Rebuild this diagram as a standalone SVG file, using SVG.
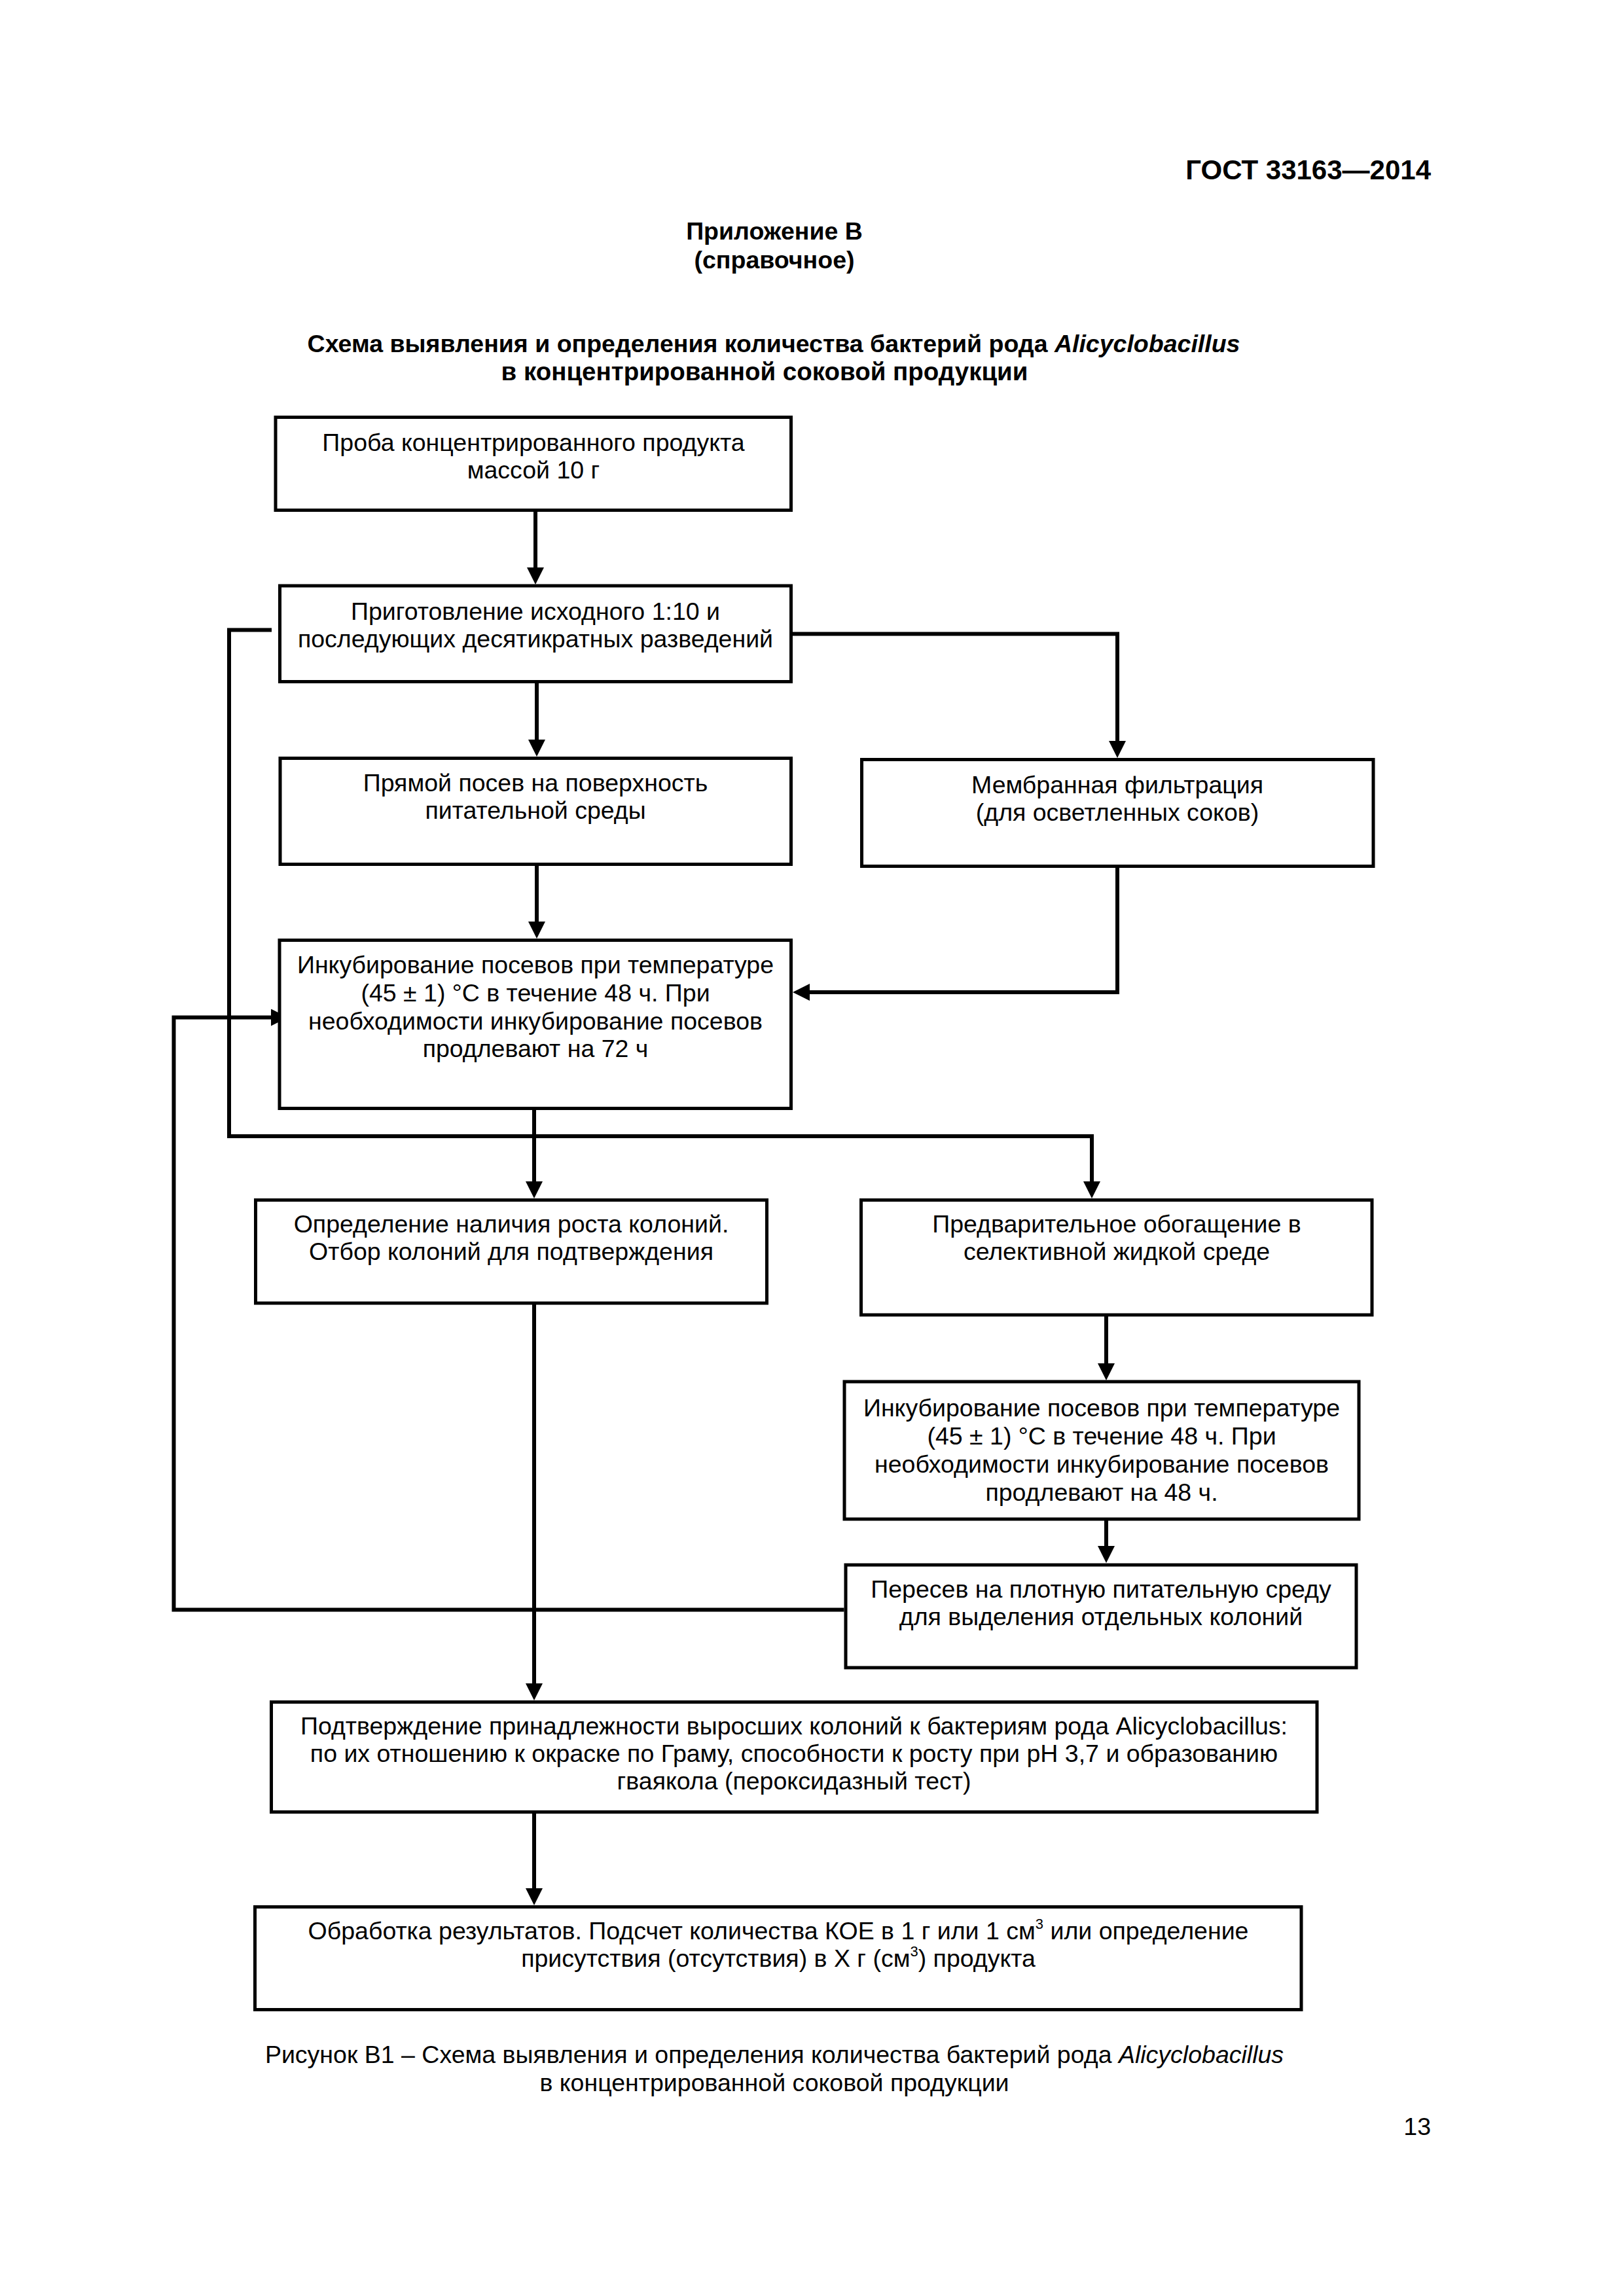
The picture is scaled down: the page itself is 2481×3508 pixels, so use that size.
<svg xmlns="http://www.w3.org/2000/svg" width="2481" height="3508" viewBox="0 0 2481 3508">
<style>
.bg{fill:#fff}
.box{fill:#fff;stroke:#000;stroke-width:5}
.conn{fill:none;stroke:#000;stroke-width:6}
.t{font-family:"Liberation Sans",Arial,sans-serif;font-size:37.5px;text-anchor:middle;fill:#000}
.h{font-family:"Liberation Sans",Arial,sans-serif;font-weight:bold;fill:#000}
.c{font-family:"Liberation Sans",Arial,sans-serif;font-size:37.5px;fill:#000}
</style>
<defs>
<marker id="ah" markerUnits="userSpaceOnUse" markerWidth="26" markerHeight="26" refX="16" refY="13" orient="auto" viewBox="0 0 26 26">
<path d="M0,0 L26,13 L0,26 Z" fill="#000"/>
</marker>
</defs>
<rect class="bg" x="0" y="0" width="2481" height="3508"/>

<text class="h" x="2186" y="274" font-size="42" text-anchor="end">ГОСТ 33163—2014</text>
<text class="h" x="1183" y="366" font-size="37.5" text-anchor="middle">Приложение В</text>
<text class="h" x="1183" y="410" font-size="37.5" text-anchor="middle">(справочное)</text>
<text class="h" x="1182" y="538" font-size="37.5" text-anchor="middle">Схема выявления и определения количества бактерий рода <tspan font-style="italic">Alicyclobacillus</tspan></text>
<text class="h" x="1168" y="581" font-size="38.5" text-anchor="middle">в концентрированной соковой продукции</text>

<g id="connectors">
<path class="conn" d="M818,779.5 V883" marker-end="url(#ah)"/>
<path class="conn" d="M820,1041.5 V1146" marker-end="url(#ah)"/>
<path class="conn" d="M1211,968.5 H1707 V1148" marker-end="url(#ah)"/>
<path class="conn" d="M820,1320.5 V1424" marker-end="url(#ah)"/>
<path class="conn" d="M1707,1323.5 V1516 H1221" marker-end="url(#ah)"/>
<path class="conn" d="M415,962.5 H350 V1736 H1668 V1821" marker-end="url(#ah)"/>
<path class="conn" d="M816,1693.5 V1821" marker-end="url(#ah)"/>
<path class="conn" d="M816,1991 V2588" marker-end="url(#ah)"/>
<path class="conn" d="M1690,2009 V2099" marker-end="url(#ah)"/>
<path class="conn" d="M1690,2321 V2378" marker-end="url(#ah)"/>
<path class="conn" d="M1289.5,2459.5 H265.5 V1554.5 H430" marker-end="url(#ah)"/>
<path class="conn" d="M816,2768.5 V2901" marker-end="url(#ah)"/>
</g>

<g id="n1">
<rect class="box" x="421" y="637.5" width="787.5" height="142"/>
<text class="t" x="815" y="689">Проба концентрированного продукта</text>
<text class="t" x="815" y="731">массой 10 г</text>
</g>
<g id="n2">
<rect class="box" x="427.5" y="895" width="781" height="146.5"/>
<text class="t" x="818" y="947">Приготовление исходного 1:10 и</text>
<text class="t" x="818" y="989">последующих десятикратных разведений</text>
</g>
<g id="n3">
<rect class="box" x="428" y="1158.5" width="780.5" height="162"/>
<text class="t" x="818" y="1209">Прямой посев на поверхность</text>
<text class="t" x="818" y="1251">питательной среды</text>
</g>
<g id="n4">
<rect class="box" x="1316.5" y="1160.5" width="781.5" height="163"/>
<text class="t" x="1707" y="1212">Мембранная фильтрация</text>
<text class="t" x="1707" y="1254">(для осветленных соков)</text>
</g>
<g id="n5">
<rect class="box" x="427" y="1436.5" width="781.5" height="257"/>
<text class="t" x="818" y="1487">Инкубирование посевов при температуре</text>
<text class="t" x="818" y="1530">(45 ± 1) °С в течение 48 ч. При</text>
<text class="t" x="818" y="1573">необходимости инкубирование посевов</text>
<text class="t" x="818" y="1615">продлевают на 72 ч</text>
</g>
<g id="n6">
<rect class="box" x="390.5" y="1833.5" width="781" height="157.5"/>
<text class="t" x="781" y="1883">Определение наличия роста колоний.</text>
<text class="t" x="781" y="1925">Отбор колоний для подтверждения</text>
</g>
<g id="n7">
<rect class="box" x="1315.5" y="1833.5" width="780.5" height="175.5"/>
<text class="t" x="1706" y="1883">Предварительное обогащение в</text>
<text class="t" x="1706" y="1925">селективной жидкой среде</text>
</g>
<g id="n8">
<rect class="box" x="1290" y="2111" width="786" height="210"/>
<text class="t" x="1683" y="2164">Инкубирование посевов при температуре</text>
<text class="t" x="1683" y="2207">(45 ± 1) °С в течение 48 ч. При</text>
<text class="t" x="1683" y="2250">необходимости инкубирование посевов</text>
<text class="t" x="1683" y="2293">продлевают на 48 ч.</text>
</g>
<g id="n9">
<rect class="box" x="1292" y="2391" width="780" height="157"/>
<text class="t" x="1682" y="2441">Пересев на плотную питательную среду</text>
<text class="t" x="1682" y="2483">для выделения отдельных колоний</text>
</g>
<g id="n10">
<rect class="box" x="414.5" y="2600.5" width="1597.5" height="168"/>
<text class="t" x="1213" y="2650">Подтверждение принадлежности выросших колоний к бактериям рода Alicyclobacillus:</text>
<text class="t" x="1213" y="2692">по их отношению к окраске по Граму, способности к росту при pH 3,7 и образованию</text>
<text class="t" x="1213" y="2734">гваякола (пероксидазный тест)</text>
</g>
<g id="n11">
<rect class="box" x="389.5" y="2913.5" width="1598.5" height="157"/>
<text class="t" x="1189" y="2963">Обработка результатов. Подсчет количества КОЕ в 1 г или 1 см<tspan dy="-16" font-size="22">3</tspan><tspan dy="16"> или определение</tspan></text>
<text class="t" x="1189" y="3005">присутствия (отсутствия) в Х г (см<tspan dy="-16" font-size="22">3</tspan><tspan dy="16">) продукта</tspan></text>
</g>

<text class="c" x="1183" y="3152" text-anchor="middle">Рисунок В1 – Схема выявления и определения количества бактерий рода <tspan font-style="italic">Alicyclobacillus</tspan></text>
<text class="c" x="1183" y="3195" text-anchor="middle">в концентрированной соковой продукции</text>
<text class="c" x="2186" y="3262" text-anchor="end">13</text>
</svg>
